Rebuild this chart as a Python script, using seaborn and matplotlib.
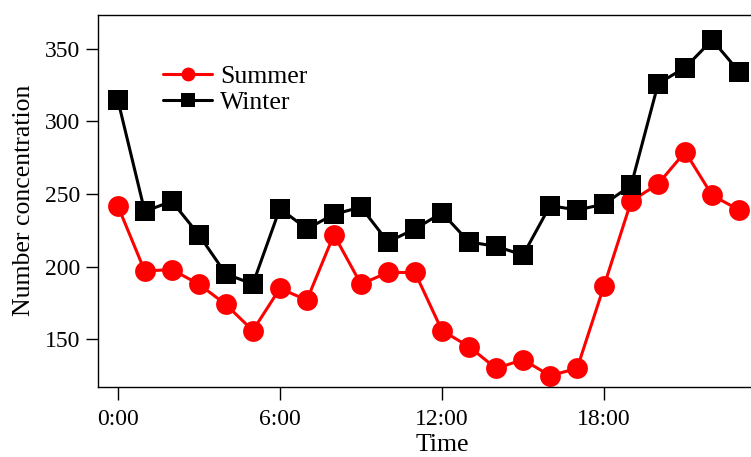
import pandas as pd
import matplotlib
matplotlib.use("Agg")
import matplotlib.pyplot as plt
import seaborn as sns

# --- dados ---
horas = list(range(24))
verao = [242, 197, 198, 188, 174, 156, 185, 177, 222, 188, 196, 196,
         156, 145, 130, 136, 125, 130, 187, 245, 257, 279, 249, 239]
inverno = [315, 238, 245, 222, 195, 188, 240, 226, 236, 241, 217, 226,
           237, 217, 214, 208, 242, 239, 243, 256, 326, 337, 356, 334]
rotulos_x = ["0:00", "6:00", "12:00", "18:00"]
posicoes_x = [0, 6, 12, 18]

df = pd.DataFrame({
    "Hora": horas * 2,
    "Valor": verao + inverno,
    "Estacao": ["Summer"] * 24 + ["Winter"] * 24,
})

sns.set_theme(style="white")
plt.rcParams["font.family"] = ["Liberation Serif", "DejaVu Serif"]
plt.rcParams["font.size"] = 17
for chave in ["text.color", "axes.labelcolor", "xtick.color", "ytick.color"]:
    plt.rcParams[chave] = "black"

fig = plt.figure(figsize=(7.51, 4.57), dpi=100)
# eixo vai além da borda direita (o original está cortado)
ax = fig.add_axes([98 / 751, 70 / 457, (786 - 98) / 751, (387 - 14.5) / 457])

sns.lineplot(
    data=df, x="Hora", y="Valor", hue="Estacao", style="Estacao",
    palette={"Summer": "red", "Winter": "black"},
    markers={"Summer": "o", "Winter": "s"}, dashes=False,
    markersize=15, markeredgewidth=0, linewidth=2.2, ax=ax,
)

ax.set_xlim(-0.73, 24.73)
ax.set_ylim(117.2, 373.5)
ax.set_xticks(posicoes_x)
ax.set_xticklabels(rotulos_x)
ax.set_yticks([150, 200, 250, 300, 350])
ax.tick_params(direction="out", length=9, width=1, color="black",
               labelsize=17, left=True, bottom=True)
ax.tick_params(axis="y", pad=4)
ax.tick_params(axis="x", pad=7)
ax.set_xlabel("Time", fontsize=18.5, labelpad=3)
ax.set_ylabel("Number concentration", fontsize=18.5, labelpad=7)

for lado in ["left", "top", "bottom", "right"]:
    ax.spines[lado].set_color("black")
    ax.spines[lado].set_linewidth(1)

handles, labels = ax.get_legend_handles_labels()
for h in handles:
    h.set_markersize(10)
ax.legend(handles, labels, loc="upper left", bbox_to_anchor=(0.08, 0.893),
          frameon=False, fontsize=18.5, handlelength=1.9, handletextpad=0.3,
          labelspacing=0.15, borderaxespad=0)

fig.savefig("out.png", dpi=100)
